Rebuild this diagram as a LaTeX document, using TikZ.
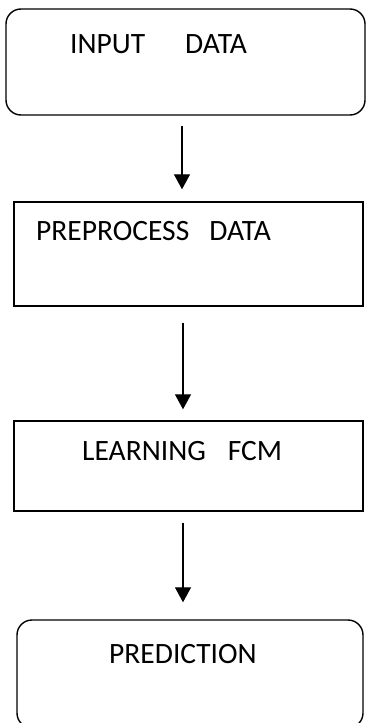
\documentclass[tikz,border=0pt]{standalone}
\usepackage{fontspec}
\setmainfont{Carlito}
\usetikzlibrary{arrows.meta}
\begin{document}
\begin{tikzpicture}[x=1pt,y=-1pt,
  boxnode/.style={draw,line width=1.4pt,inner sep=0pt,anchor=center},
  roundnode/.style={boxnode,rounded corners=15pt},
  lbl/.style={anchor=base west,inner sep=0pt,font=\fontsize{29.5}{33}\selectfont},
  flow/.style={line width=1.3pt,-{Triangle[width=16pt,length=15pt]}}]
\useasboundingbox (0,0) rectangle (366,723);
\node[roundnode,minimum width=359pt,minimum height=106pt] (b1) at (185.5,62) {};
\node[boxnode,minimum width=349pt,minimum height=104pt] (b2) at (188.5,254) {};
\node[boxnode,minimum width=349pt,minimum height=90pt] (b3) at (188.5,466) {};
\node[roundnode,minimum width=346pt,minimum height=108pt] (b4) at (190,674) {};
\node[lbl] (t1) at (70,53) {INPUT\hspace{40pt}DATA};
\node[lbl] (t2) at (36,240) {PREPROCESS\hspace{20pt}DATA};
\node[lbl] (t3) at (82,460) {LEARNING\hspace{22pt}FCM};
\node[lbl] (t4) at (109,663) {PREDICTION};
\draw[flow,shorten <=10pt,shorten >=12pt] ([xshift=-3.5pt]b1.south) -- ([xshift=-6.5pt]b2.north);
\draw[flow,shorten <=16pt,shorten >=11pt] ([xshift=-5.5pt]b2.south) -- ([xshift=-5.5pt]b3.north);
\draw[flow,shorten <=11pt,shorten >=17pt] ([xshift=-5.5pt]b3.south) -- ([xshift=-7pt]b4.north);
\end{tikzpicture}
\end{document}
